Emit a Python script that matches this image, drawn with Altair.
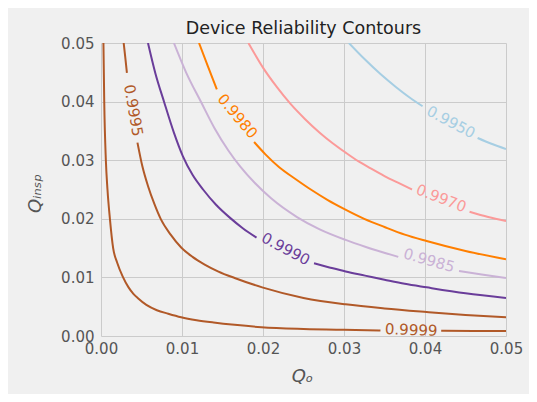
import altair as alt
import pandas as pd

levels = ["0.9950", "0.9970", "0.9980", "0.9985", "0.9990", "0.9995", "0.9999"]
colors = ["#a6cee3", "#fb9a99", "#ff7f00", "#cab2d6", "#6a3d9a", "#b15928", "#b15928"]

# contour pieces (each contour is split where its inline label sits)
q9950_x1 = [0.0306, 0.0325, 0.0345, 0.0364, 0.0381, 0.0397]
q9950_y1 = [0.0500, 0.0473, 0.0447, 0.0425, 0.0407, 0.0392]
q9950_x2 = [0.0465, 0.0482, 0.0500]
q9950_y2 = [0.0338, 0.0328, 0.0319]

q9970_x1 = [0.0182, 0.0200, 0.0217, 0.0234, 0.0252, 0.0270, 0.0286, 0.0302, 0.0318, 0.0333, 0.0350, 0.0366, 0.0384]
q9970_y1 = [0.0500, 0.0458, 0.0425, 0.0396, 0.0370, 0.0347, 0.0329, 0.0313, 0.0298, 0.0286, 0.0273, 0.0262, 0.0250]
q9970_x2 = [0.0455, 0.0478, 0.0500]
q9970_y2 = [0.0212, 0.0203, 0.0196]

q9980_x1 = [0.0121, 0.0132, 0.0143]
q9980_y1 = [0.0500, 0.0460, 0.0421]
q9980_x2 = [0.0189, 0.0203, 0.0220, 0.0240, 0.0259, 0.0280, 0.0300, 0.0325, 0.0350, 0.0375, 0.0402, 0.0450, 0.0500]
q9980_y2 = [0.0331, 0.0310, 0.0288, 0.0268, 0.0250, 0.0232, 0.0217, 0.0200, 0.0186, 0.0173, 0.0162, 0.0145, 0.0131]

q9985_x1 = [0.0090, 0.0105, 0.0124, 0.0140, 0.0157, 0.0172, 0.0190, 0.0210, 0.0242, 0.0270, 0.0302, 0.0327, 0.0367]
q9985_y1 = [0.0500, 0.0450, 0.0398, 0.0355, 0.0317, 0.0289, 0.0261, 0.0235, 0.0203, 0.0182, 0.0164, 0.0152, 0.0135]
q9985_x2 = [0.0442, 0.0470, 0.0500]
q9985_y2 = [0.0111, 0.0105, 0.0099]

q9990_x1 = [0.0058, 0.0067, 0.0078, 0.0090, 0.0101, 0.0113, 0.0126, 0.0142, 0.0159, 0.0175, 0.0192]
q9990_y1 = [0.0500, 0.0449, 0.0399, 0.0347, 0.0307, 0.0275, 0.0250, 0.0224, 0.0202, 0.0184, 0.0168]
q9990_x2 = [0.0263, 0.0282, 0.0302, 0.0326, 0.0350, 0.0375, 0.0402, 0.0450, 0.0500]
q9990_y2 = [0.0124, 0.0117, 0.0110, 0.0103, 0.0096, 0.0089, 0.0083, 0.0073, 0.0065]

q9995_x1 = [0.0028, 0.0030, 0.0032]
q9995_y1 = [0.0500, 0.0475, 0.0449]
q9995_x2 = [0.0045, 0.0051, 0.0058, 0.0066, 0.0074, 0.0086, 0.0099, 0.0113, 0.0128, 0.0145, 0.0165,
            0.0199, 0.0250, 0.0302, 0.0350, 0.0402, 0.0450, 0.0500]
q9995_y2 = [0.0330, 0.0290, 0.0256, 0.0225, 0.0199, 0.0173, 0.0151, 0.0135, 0.0122, 0.0110, 0.0099,
            0.0083, 0.0065, 0.0054, 0.0047, 0.0041, 0.0036, 0.0032]

q9999_x1 = [0.0003, 0.0004, 0.0006, 0.0008, 0.0011, 0.0015, 0.0020, 0.0027, 0.0034, 0.0040, 0.0046,
            0.0056, 0.0069, 0.0083, 0.0099, 0.0118, 0.0139, 0.0165, 0.0198, 0.0250, 0.0300, 0.0345]
q9999_y1 = [0.0500, 0.0400, 0.0300, 0.0250, 0.0200, 0.0150, 0.0125, 0.0101, 0.0083, 0.0072, 0.0064,
            0.0053, 0.0044, 0.0038, 0.0032, 0.0027, 0.0023, 0.0019, 0.0015, 0.0012, 0.00105, 0.00095]
q9999_x2 = [0.0420, 0.0460, 0.0500]
q9999_y2 = [0.0009, 0.00087, 0.00085]

# inline label positions and rotation (degrees, clockwise)
label_x = [0.0432, 0.0420, 0.01685, 0.0405, 0.0228, 0.0040, 0.0383]
label_y = [0.0365, 0.0235, 0.0375, 0.0129, 0.01485, 0.0385, 0.00102]
label_angle = [28, 21, 50, 16, 28, 80, 2]

ticks = [0.0, 0.01, 0.02, 0.03, 0.04, 0.05]

pieces = [
    ("0.9950", q9950_x1, q9950_y1, q9950_x2, q9950_y2),
    ("0.9970", q9970_x1, q9970_y1, q9970_x2, q9970_y2),
    ("0.9980", q9980_x1, q9980_y1, q9980_x2, q9980_y2),
    ("0.9985", q9985_x1, q9985_y1, q9985_x2, q9985_y2),
    ("0.9990", q9990_x1, q9990_y1, q9990_x2, q9990_y2),
    ("0.9995", q9995_x1, q9995_y1, q9995_x2, q9995_y2),
    ("0.9999", q9999_x1, q9999_y1, q9999_x2, q9999_y2),
]
rows = []
for lev, x1, y1, x2, y2 in pieces:
    for seg, (xs, ys) in enumerate([(x1, y1), (x2, y2)]):
        for i, (a, b) in enumerate(zip(xs, ys)):
            rows.append({"level": lev, "piece": f"{lev}-{seg}", "i": i, "qo": a, "qi": b})
lines_df = pd.DataFrame(rows)
labels_df = pd.DataFrame({"level": levels, "qo": label_x, "qi": label_y, "ang": label_angle})

color_scale = alt.Scale(domain=levels, range=colors)
xs = alt.Scale(domain=[0, 0.05], nice=False, zero=False)
ys = alt.Scale(domain=[0, 0.05], nice=False, zero=False)

x_axis = alt.Axis(values=ticks, format=".2f", title="Qₒ", labelFlush=False, ticks=False, tickSize=0,
                  domain=False, labelPadding=5, titleX=201, titleY=45, titleBaseline="alphabetic",
                  titleAnchor="start", titleAlign="center")
y_axis = alt.Axis(values=ticks, format=".2f", title="Qᵢₙₛₚ", labelFlush=False, ticks=False, tickSize=0,
                  domain=False, labelPadding=7, titleAngle=270, titleX=-61, titleY=150,
                  titleBaseline="alphabetic", titleAlign="center")

lines = alt.Chart(lines_df).mark_line(strokeWidth=2, clip=True, interpolate="monotone").encode(
    x=alt.X("qo:Q", scale=xs, axis=x_axis),
    y=alt.Y("qi:Q", scale=ys, axis=y_axis),
    color=alt.Color("level:N", scale=color_scale, legend=None),
    detail="piece:N",
    order="i:Q",
)

texts = alt.Chart(labels_df).mark_text(fontSize=15, font="DejaVu Sans", align="center",
                                       baseline="middle").encode(
    x=alt.X("qo:Q", scale=xs),
    y=alt.Y("qi:Q", scale=ys),
    text="level:N",
    color=alt.Color("level:N", scale=color_scale, legend=None),
    angle=alt.Angle("ang:Q", scale=None),
)

chart = alt.layer(lines, texts).properties(
    width=405,
    height=293,
    title=alt.TitleParams("Device Reliability Contours", fontSize=17.5, font="DejaVu Sans",
                          fontWeight="normal", color="#222222", anchor="middle",
                          frame="group", baseline="bottom", offset=6, dy=25),
    autosize=alt.AutoSizeParams(type="none"),
    padding={"left": 93, "top": 35, "right": 23, "bottom": 58},
).configure(
    background="#f0f0f0",
    font="DejaVu Sans",
).configure_view(
    fill="#f0f0f0", strokeWidth=0,
).configure_axis(
    labelFont="DejaVu Sans", labelFontSize=15, labelColor="#555555",
    titleFont="DejaVu Sans", titleFontSize=18, titleColor="#555555",
    titleFontStyle="italic", titleFontWeight="normal",
    gridColor="#cbcbcb", gridWidth=1,
)

chart.save("out.html", embed_options={"renderer": "svg", "actions": False})
